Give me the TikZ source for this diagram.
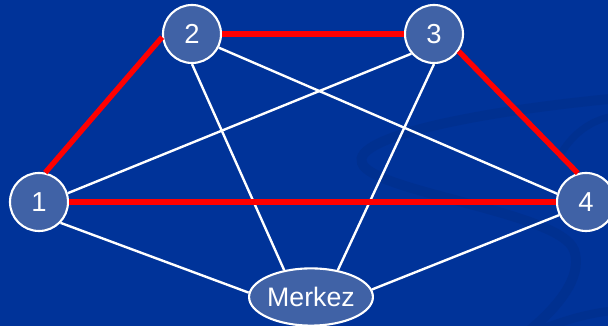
\documentclass[tikz,border=0pt]{standalone}
\usepackage{fontspec}
\setmainfont{Liberation Sans}
\usetikzlibrary{shapes.geometric}
\definecolor{slide}{HTML}{003399}
\definecolor{swoosh}{HTML}{003090}
\definecolor{stop}{HTML}{4062A6}
\definecolor{tour}{HTML}{FF0000}
\tikzset{
  city/.style={circle,draw=white,fill=stop,line width=1.5pt,minimum size=14.5mm,
    inner sep=0pt,text=white,font=\fontsize{19.5}{21}\selectfont},
  hub/.style={city,ellipse,minimum width=28.9mm,minimum height=14.3mm,
    font=\fontsize{19}{21}\selectfont},
  road/.style={draw=white,line width=1.7pt},
  route/.style={draw=tour,line width=3.8pt},
  band/.style={draw=swoosh,line width=7pt,line cap=round},
}

\begin{document}
\begin{tikzpicture}[x=0.025cm,y=-0.025cm]
  % slide background with its faint swoosh
  \fill[slide] (0,0) rectangle (608,326);
  \useasboundingbox (0,0) rectangle (608,326);
  \begin{scope}
    \clip (0,0) rectangle (608,326);
    \draw[band] (620,98) .. controls (470,112) and (352,138) .. (362,163)
      .. controls (372,192) and (560,212) .. (574,250)
      .. controls (582,272) and (566,300) .. (530,330);
    \draw[band,line width=5pt] (560,155) .. controls (575,130) and (595,118) .. (620,115);
    \draw[band,line width=6pt] (540,330) .. controls (570,318) and (595,312) .. (620,310);
  \end{scope}
  % the stops
  \node[city] (n1) at (39,202) {1};
  \node[city] (n2) at (192,34) {2};
  \node[city] (n3) at (434,34) {3};
  \node[city] (n4) at (586,202) {4};
  \node[hub] (m) at (311,297) {Merkez};
  % all roads
  \draw[road] (n1.17)--(n3.221);
  \draw[road] (n1.-44)--(m.176);
  \draw[road] (n2.-27)--(n4.164);
  \draw[road] (n2.south)--(m.135);
  \draw[road] (n3.south)--(m.45);
  \draw[road] (n4.206)--(m.7);
  % the chosen tour
  \draw[route] (n1.78)--(n2.186);
  \draw[route] (n2.east)--(n3.west);
  \draw[route] (n3.-35)--(n4.106);
  \draw[route] (n1.east)--(n4.west);
\end{tikzpicture}
\end{document}
